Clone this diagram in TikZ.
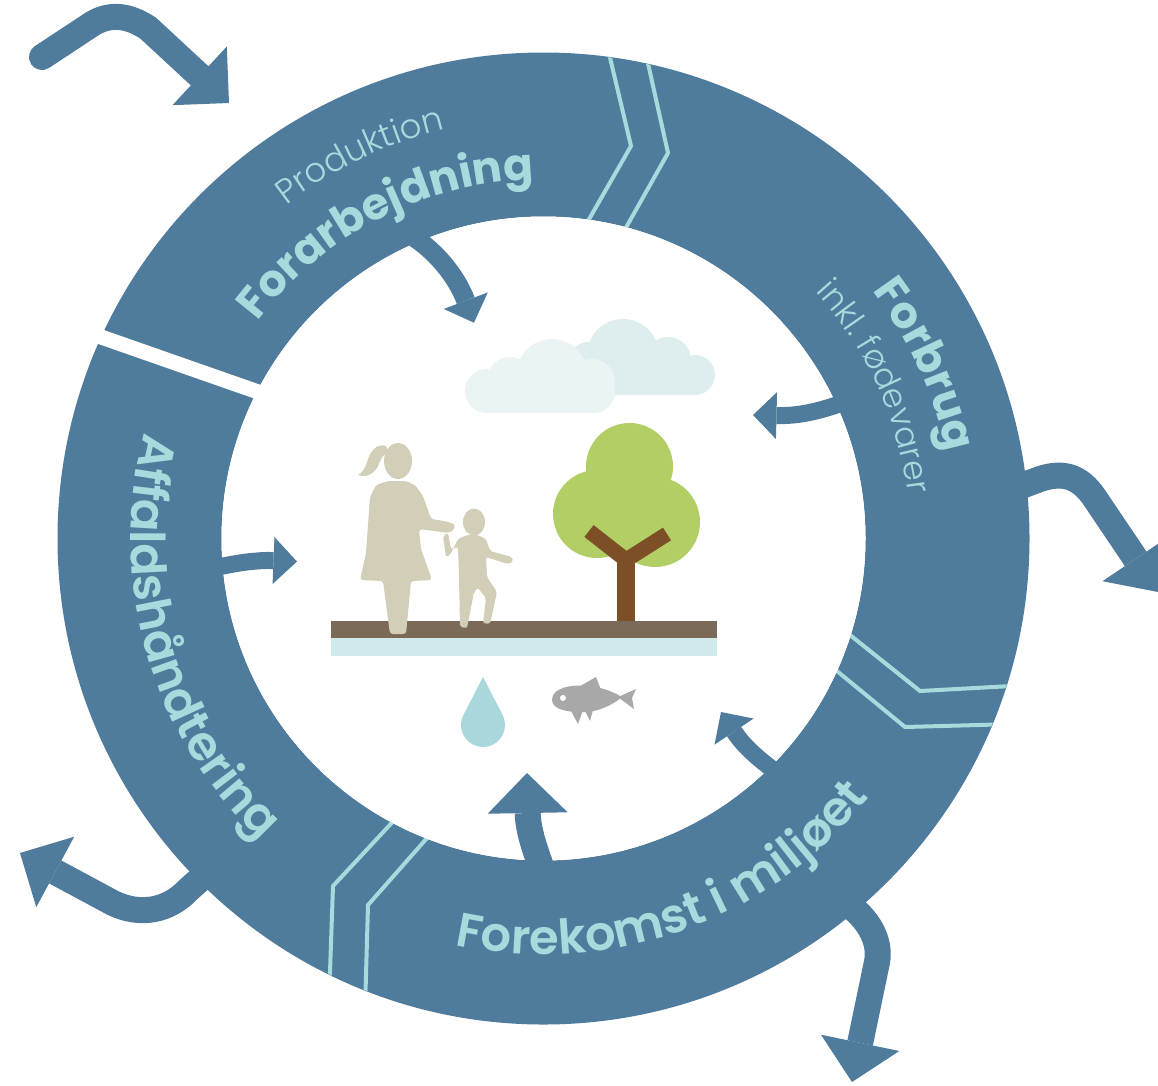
\documentclass[tikz,border=0pt]{standalone}
\usepackage{fontspec}
\usetikzlibrary{arrows.meta,decorations.text}
\newfontfamily\pop{Poppins}
\newfontfamily\popsemi{Poppins SemiBold}
\newfontfamily\poplight{Poppins Light}

\definecolor{ringblue}{RGB}{79,124,156}
\definecolor{ringtext}{RGB}{166,218,220}
\definecolor{cloudfront}{RGB}{235,244,245}
\definecolor{cloudback}{RGB}{222,238,239}
\definecolor{groundbrown}{RGB}{123,106,88}
\definecolor{groundwater}{RGB}{208,234,235}
\definecolor{treegreen}{RGB}{178,207,102}
\definecolor{trunkbrown}{RGB}{125,79,38}
\definecolor{figbeige}{RGB}{210,206,183}
\definecolor{dropblue}{RGB}{168,216,219}
\definecolor{fishgray}{RGB}{168,168,168}

% label fonts
\newcommand\fForarb{\pop\bfseries\fontsize{44}{44}\selectfont\color{ringtext}}
\newcommand\fProd{\poplight\fontsize{34}{34}\selectfont\color{ringtext}}
\newcommand\fForbrug{\pop\bfseries\fontsize{44}{44}\selectfont\color{ringtext}}
\newcommand\fInkl{\poplight\fontsize{33}{33}\selectfont\color{ringtext}}
\newcommand\fForek{\popsemi\fontsize{48}{48}\selectfont\color{ringtext}}
\newcommand\fAffald{\popsemi\fontsize{48}{48}\selectfont\color{ringtext}}

\tikzset{
  bigarrow/.style={draw=ringblue, line width=26pt,
    -{Triangle[length=40pt,width=80pt,line width=0pt]}},
  smallarrow/.style={draw=ringblue, line width=17pt,
    -{Triangle[length=23.5pt,width=47pt,line width=0pt]}},
  chevron/.style={draw=ringtext, line width=4pt},
  ringlabel/.style={decorate, decoration={text along path, text align=center, text={#1}}},
}

\begin{document}
\begin{tikzpicture}[x=1pt,y=-1pt]
\useasboundingbox (0,0) rectangle (1158,1085);
\clip (0,0) rectangle (1158,1085);
\fill[white] (0,0) rectangle (1158,1085);
\coordinate (C) at (543.5,538.5);

% the cycle ring
\fill[ringblue, even odd rule] (C) circle[radius=486] (C) circle[radius=322];

% direction chevrons between the stages
\begin{scope}
  \clip (C) circle[radius=485.5];
  \draw[chevron] (607,45) -- (631,146) -- (580,235);
  \draw[chevron] (645,50) -- (668,153) -- (619,240);
  \draw[chevron] (840,627) -- (920,691) -- (1030,685);
  \draw[chevron] (826,662) -- (905,727) -- (1015,724);
  \draw[chevron] (400,814) -- (333,886) -- (329,1000);
  \draw[chevron] (435,829) -- (368,905) -- (365,1010);
\end{scope}
\fill[white] (C) circle[radius=322];

% gap where the cycle starts
\draw[white, line width=15pt] (84,331) -- (264,394);

% arrows leaving / entering the ring on the outside
\draw[bigarrow, line cap=round] (42,57) -- (92,24) .. controls (110,13) and (128,15) .. (148,28) -- (229,103);
\draw[bigarrow] (1016,488) -- (1040,479) .. controls (1064,471) and (1080,477) .. (1094,497) -- (1158,592);
\draw[bigarrow] (845,902) .. controls (868,918) and (881,940) .. (877,962) -- (852,1082);
\draw[bigarrow] (208,872) -- (188,890) .. controls (168,911) and (140,916) .. (113,903) -- (20,853);

% arrows into the environment
\draw[bigarrow] (543,872) .. controls (535,850) and (528,830) .. (527,773);
\draw[smallarrow, line width=19pt] (415,238) .. controls (440,255) and (458,280) .. (474,322.7);
\draw[smallarrow] (845,402) .. controls (815,413) and (795,416) .. (753,415);
\draw[smallarrow] (780,775) .. controls (760,760) and (745,748) .. (721,712);
\draw[smallarrow] (214,568) .. controls (240,562) and (260,560) .. (297,561.5);

% clouds
\fill[cloudback] (588,360) circle[radius=18];
\fill[cloudback] (623,355) circle[radius=36];
\fill[cloudback] (668,360) circle[radius=23];
\fill[cloudback] (695,375) circle[radius=20];
\fill[cloudback] (588,360) rectangle (695,395);
\fill[cloudfront] (487,391) circle[radius=22];
\fill[cloudfront] (510,380) circle[radius=23];
\fill[cloudfront] (552,374) circle[radius=35];
\fill[cloudfront] (592,382) circle[radius=23];
\fill[cloudfront] (594,392) circle[radius=21];
\fill[cloudfront] (487,375) rectangle (594,413);

% ground and water layer
\fill[groundbrown] (330.7,621) rectangle (716.7,637.5);
\fill[groundwater] (330.7,637.5) rectangle (716.7,655.5);

% tree
\fill[treegreen] (629.5,466.5) circle[radius=43.5] (597,514) circle[radius=44] (655,522) circle[radius=45];
\fill[trunkbrown] (617,553) rectangle (635,621);
\draw[trunkbrown, line width=15pt] (589,531) -- (626,560) -- (667,534);

% woman
\fill[figbeige] (398,461) ellipse[x radius=14, y radius=18];
\fill[figbeige] (386,446) .. controls (376,443) and (370,452) .. (367,462) .. controls (365,469) and (362,473) .. (358,475) .. controls (366,478) and (374,474) .. (378,466) .. controls (381,458) and (384,454) .. (388,452) -- cycle;
\fill[figbeige, rounded corners=3pt] (388,481) -- (376,485) -- (370,497) -- (366,553) -- (360,580) -- (383,581) -- (390,634) -- (406,634) -- (411,581) -- (432,580) -- (421,549) -- (419,529) -- (449,533) -- (454,530) -- (455,524) -- (444,521) -- (431,519) -- (423,496) -- (415,485) -- (406,481) -- cycle;

% child
\fill[figbeige] (474,522) ellipse[x radius=11, y radius=13.5];
\fill[figbeige, rounded corners=2pt] (467,535) -- (458,539) -- (450,555) -- (446,557) -- (443,536) -- (448,533) -- (451,549) -- (458,547) -- (459,576) -- (460,627) -- (467,628) -- (474,592) -- (478,588) -- (486,598) -- (483,623) -- (490,624) -- (497,592) -- (487,577) -- (486,557) -- (508,564) -- (513,562) -- (512,557) -- (490,551) -- (486,539) -- (478,535) -- cycle;

% water drop
\begin{scope}[shift={(483,725)}, y=1pt]
  \fill[dropblue] (0,48) -- (152.7:22) arc[start angle=152.7, end angle=387.3, radius=22] -- cycle;
\end{scope}

% fish
\fill[fishgray] (552,700) .. controls (552,688) and (570,684) .. (590,686) .. controls (605,688) and (615,693) .. (622,697) .. controls (615,703) and (603,710) .. (588,712) .. controls (570,713) and (552,710) .. (552,700) -- cycle;
\fill[fishgray] (575,689) -- (596,677) -- (601,690) -- cycle;
\fill[fishgray] (618,697) -- (636,689) -- (632,698) -- (634,709) -- cycle;
\fill[fishgray] (570,709) -- (578,724) -- (583,710) -- cycle;
\fill[fishgray] (585,711) -- (590,721) -- (593,710) -- cycle;
\fill[white] (563,698) circle[radius=3];

% stage labels along the ring
\begin{scope}[shift={(C)}, y=1pt]
  \path[ringlabel={|\fForarb|Forarbejdning}] (167.2:359) arc[start angle=167.2, end angle=67.2, radius=359];
  \path[ringlabel={|\fProd|Produktion}] (165.6:421) arc[start angle=165.6, end angle=65.6, radius=421];
  \path[ringlabel={|\fForbrug|Forbrug}] (74.5:412) arc[start angle=74.5, end angle=-25.5, radius=412];
  \path[ringlabel={|\fInkl|inkl. fødevarer}] (74.6:367) arc[start angle=74.6, end angle=-25.4, radius=367];
  \path[ringlabel={|\fForek|Forekomst i miljøet}] (-130.35:416) arc[start angle=-130.35, end angle=-10.35, radius=416];
  \path[ringlabel={|\fAffald|Affaldshåndtering}] (136:413) arc[start angle=136, end angle=256, radius=413];
\end{scope}
\end{tikzpicture}
\end{document}
